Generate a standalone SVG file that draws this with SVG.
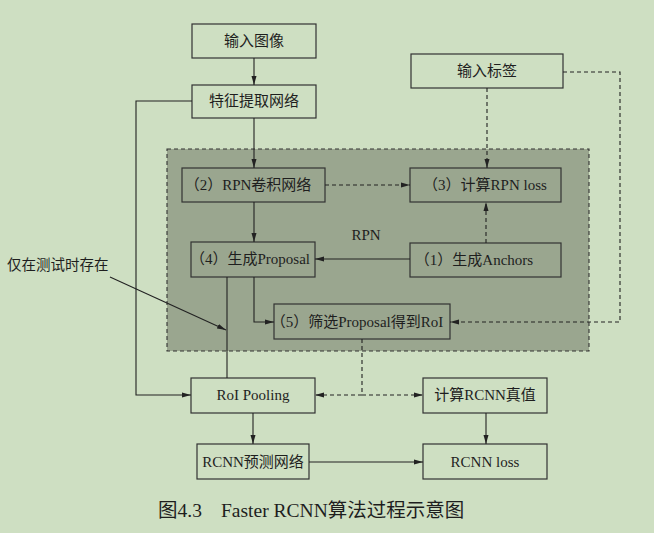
<svg xmlns="http://www.w3.org/2000/svg" width="654" height="533" viewBox="0 0 654 533">
<style>
.box{fill:none;stroke:#333;stroke-width:1.2}
.t{font-family:"Liberation Serif","Noto Sans CJK SC",serif;font-size:15px;fill:#1e1e1e}
.c{stroke:#222;stroke-width:1.1;fill:none}
.d{stroke-dasharray:4,3}
</style>
<defs>
<marker id="a" markerWidth="9" markerHeight="6" refX="9" refY="3" orient="auto" markerUnits="userSpaceOnUse"><path d="M0,0.5 L9,3 L0,5.5 z" fill="#222"/></marker>
</defs>
<rect width="654" height="533" fill="#cedfc2"/>
<rect x="167" y="149" width="422" height="202" fill="#9aa68f" stroke="#333" stroke-width="1.1" stroke-dasharray="4,3"/>
<text class="t" x="366" y="240" text-anchor="middle">RPN</text>
<g id="n_input_img"><rect class="box" x="192" y="24" width="124" height="34"/><text class="t" x="254" y="46" text-anchor="middle">输入图像</text></g>
<g id="n_feat"><rect class="box" x="192" y="85" width="124" height="33"/><text class="t" x="254" y="106" text-anchor="middle">特征提取网络</text></g>
<g id="n_label"><rect class="box" x="411" y="54" width="152" height="34"/><text class="t" x="487" y="76" text-anchor="middle">输入标签</text></g>
<g id="n_rpnconv"><rect class="box" x="182" y="168" width="143" height="34"/><text class="t" x="248" y="190" text-anchor="middle">（2）RPN卷积网络</text></g>
<g id="n_rpnloss"><rect class="box" x="410" y="168" width="151" height="34"/><text class="t" x="485" y="190" text-anchor="middle">（3）计算RPN loss</text></g>
<g id="n_proposal"><rect class="box" x="191" y="242" width="124" height="35"/><text class="t" x="250" y="264" text-anchor="middle">（4）生成Proposal</text></g>
<g id="n_anchors"><rect class="box" x="410" y="243" width="151" height="34"/><text class="t" x="474" y="265" text-anchor="middle">（1）生成Anchors</text></g>
<g id="n_filter"><rect class="box" x="274" y="304" width="176" height="35"/><text class="t" x="357" y="327" text-anchor="middle">（5）筛选Proposal得到RoI</text></g>
<g id="n_roipool"><rect class="box" x="191" y="378" width="124" height="35"/><text class="t" x="253" y="400" text-anchor="middle">RoI Pooling</text></g>
<g id="n_rcnngt"><rect class="box" x="423" y="378" width="124" height="35"/><text class="t" x="485" y="400" text-anchor="middle">计算RCNN真值</text></g>
<g id="n_rcnnpred"><rect class="box" x="197" y="444" width="112" height="35"/><text class="t" x="253" y="467" text-anchor="middle">RCNN预测网络</text></g>
<g id="n_rcnnloss"><rect class="box" x="423" y="444" width="124" height="35"/><text class="t" x="485" y="467" text-anchor="middle">RCNN loss</text></g>
<g id="note"><text class="t" x="7" y="270" style="font-size:14.5px">仅在测试时存在</text></g>
<g id="connectors">
<path class="c" d="M254,58 V85" marker-end="url(#a)"/>
<path class="c" d="M254,118 V168" marker-end="url(#a)"/>
<path class="c d" d="M487,88 V168" marker-end="url(#a)"/>
<path class="c d" d="M563,72 H620 V322 H450" marker-end="url(#a)"/>
<path class="c d" d="M325,185 H410" marker-end="url(#a)"/>
<path class="c" d="M254,202 V242" marker-end="url(#a)"/>
<path class="c d" d="M486,243 V202" marker-end="url(#a)"/>
<path class="c" d="M410,259 H315" marker-end="url(#a)"/>
<path class="c" d="M254,277 V322 H274" marker-end="url(#a)"/>
<path class="c" d="M227,277 V378"/>
<path class="c" d="M192,101 H136 V395 H191" marker-end="url(#a)"/>
<path class="c d" d="M362,339 V395"/>
<path class="c d" d="M362,395 H315" marker-end="url(#a)"/>
<path class="c d" d="M362,395 H423" marker-end="url(#a)"/>
<path class="c" d="M253,413 V444" marker-end="url(#a)"/>
<path class="c" d="M486,413 V444" marker-end="url(#a)"/>
<path class="c" d="M309,462 H423" marker-end="url(#a)"/>
<path class="c" d="M110,277 L226,330" marker-end="url(#a)"/>
</g>
<text class="t" x="158" y="517" style="font-size:19.5px">图4.3</text>
<text class="t" x="221" y="517" style="font-size:19.5px">Faster RCNN算法过程示意图</text>
</svg>
